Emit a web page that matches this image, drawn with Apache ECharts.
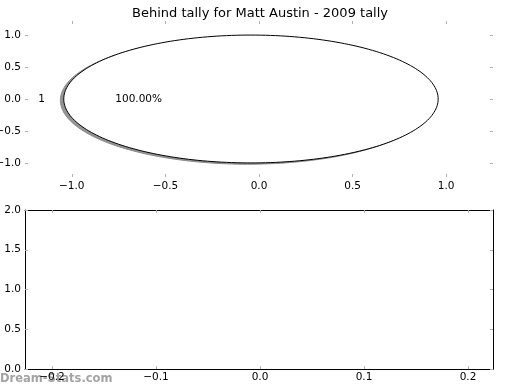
<!DOCTYPE html>
<html>
<head>
<meta charset="utf-8">
<script src="https://cdn.jsdelivr.net/npm/echarts@6/dist/echarts.min.js"></script>
<style>
html,body{margin:0;padding:0;background:#fff;}
#chart{width:520px;height:390px;}
</style>
</head>
<body>
<div id="chart"></div>
<script>
const chartTitle = 'Behind tally for Matt Austin - 2009 tally';
const sliceLabels = ['1'];
const sliceValues = [1];
const topXTicks = [-1.0, -0.5, 0.0, 0.5, 1.0];
const topYTicks = [-1.0, -0.5, 0.0, 0.5, 1.0];
const bottomXTicks = [-0.2, -0.1, 0.0, 0.1, 0.2];
const bottomYTicks = [0.0, 0.5, 1.0, 1.5, 2.0];
const watermark = 'Dream-Stats.com';

const FONT = 'DejaVu Sans';
const TICK_GRAY = '#b0b0b0';
const total = sliceValues.reduce((a, b) => a + b, 0);
const cum = [0];
sliceValues.forEach((v, i) => cum.push(cum[i] + v));
const PIE_CX = -0.043, PIE_CY = 0, PIE_R = 1.0;
const SH_DX = -0.018, SH_DY = -0.02;

function fmt(v) { return v.toFixed(1).replace('-', '\u2212'); }

function arcPoints(api, start, end, dx, dy) {
  const full = end - start >= Math.PI * 2 - 1e-9;
  const pts = [];
  if (!full) pts.push(api.coord([PIE_CX + dx, PIE_CY + dy]));
  const N = 240;
  for (let k = 0; k <= N; k++) {
    const t = start + (end - start) * k / N;
    pts.push(api.coord([PIE_CX + dx + PIE_R * Math.cos(t), PIE_CY + dy + PIE_R * Math.sin(t)]));
  }
  return pts;
}

function renderItem(params, api) {
  const i = params.dataIndex;
  const start = cum[i] / total * Math.PI * 2;
  const end = cum[i + 1] / total * Math.PI * 2;
  const mid = (start + end) / 2;
  const shadow = arcPoints(api, start, end, SH_DX, SH_DY);
  const body = arcPoints(api, start, end, 0, 0);
  const lp = api.coord([PIE_CX + 1.1 * PIE_R * Math.cos(mid), PIE_CY + 1.1 * PIE_R * Math.sin(mid)]);
  const pp = api.coord([PIE_CX + 0.6 * PIE_R * Math.cos(mid), PIE_CY + 0.6 * PIE_R * Math.sin(mid)]);
  const pct = (sliceValues[i] / total * 100).toFixed(2) + '%';
  return {
    type: 'group',
    children: [
      { type: 'polygon', shape: { points: shadow }, style: { fill: '#959595', stroke: '#8a8a8a', lineWidth: 1 } },
      { type: 'polygon', shape: { points: body }, style: { fill: '#ffffff', stroke: '#000000', lineWidth: 1 } },
      { type: 'text', style: { text: sliceLabels[i], x: lp[0], y: lp[1], align: Math.cos(mid) < 0 ? 'right' : 'left', verticalAlign: 'middle', fill: '#000', font: '10.5px "' + FONT + '"' } },
      { type: 'text', style: { text: pct, x: pp[0], y: pp[1], align: 'center', verticalAlign: 'middle', fill: '#000', font: '10.5px "' + FONT + '"' } }
    ]
  };
}

function makeAxis(opts) {
  return {
    type: 'value',
    gridIndex: opts.grid,
    position: opts.position,
    min: opts.min, max: opts.max,
    splitLine: { show: false },
    axisLine: { show: opts.line, onZero: false, lineStyle: { color: '#000', width: 1 } },
    axisTick: { show: true, inside: true, length: 3, customValues: opts.ticks, lineStyle: { color: TICK_GRAY, width: 1 } },
    axisLabel: { show: opts.labels, customValues: opts.ticks, formatter: fmt, margin: opts.margin || 4, color: '#000', fontSize: 10.5, fontFamily: FONT, hideOverlap: false },
    z: 5
  };
}

const chart = echarts.init(document.getElementById('chart'), null, { renderer: 'canvas' });
chart.setOption({
  animation: false,
  backgroundColor: '#ffffff',
  title: { text: chartTitle, left: 'center', top: 2, textStyle: { fontFamily: FONT, fontSize: 13, fontWeight: 'normal', color: '#000' } },
  grid: [
    { left: 25, top: 21, width: 468, height: 156, outerBoundsMode: 'none', containLabel: false },
    { left: 25, top: 210, width: 468, height: 159, outerBoundsMode: 'none', containLabel: false }
  ],
  xAxis: [
    makeAxis({ grid: 0, position: 'bottom', min: -1.25, max: 1.25, ticks: topXTicks, line: false, labels: true, margin: 4 }),
    makeAxis({ grid: 0, position: 'top', min: -1.25, max: 1.25, ticks: topXTicks, line: false, labels: false }),
    makeAxis({ grid: 1, position: 'bottom', min: -0.226, max: 0.224, ticks: bottomXTicks, line: true, labels: true, margin: 3 }),
    makeAxis({ grid: 1, position: 'top', min: -0.226, max: 0.224, ticks: bottomXTicks, line: true, labels: false })
  ],
  yAxis: [
    makeAxis({ grid: 0, position: 'left', min: -1.22, max: 1.22, ticks: topYTicks, line: false, labels: true, margin: 4 }),
    makeAxis({ grid: 0, position: 'right', min: -1.22, max: 1.22, ticks: topYTicks, line: false, labels: false }),
    makeAxis({ grid: 1, position: 'left', min: 0, max: 2, ticks: bottomYTicks, line: true, labels: true, margin: 4 }),
    makeAxis({ grid: 1, position: 'right', min: 0, max: 2, ticks: bottomYTicks, line: true, labels: false })
  ],
  graphic: [
    { type: 'text', left: 0, top: 373, z: -10, style: { text: watermark, fill: '#a3a3a3', font: 'bold 11.5px "' + FONT + '"' } }
  ],
  series: [
    { type: 'custom', xAxisIndex: 0, yAxisIndex: 0, renderItem: renderItem, data: sliceValues.map((v, i) => [i]), clip: false, z: 2 },
    { type: 'line', xAxisIndex: 2, yAxisIndex: 2, data: [] }
  ]
});
</script>
</body>
</html>
